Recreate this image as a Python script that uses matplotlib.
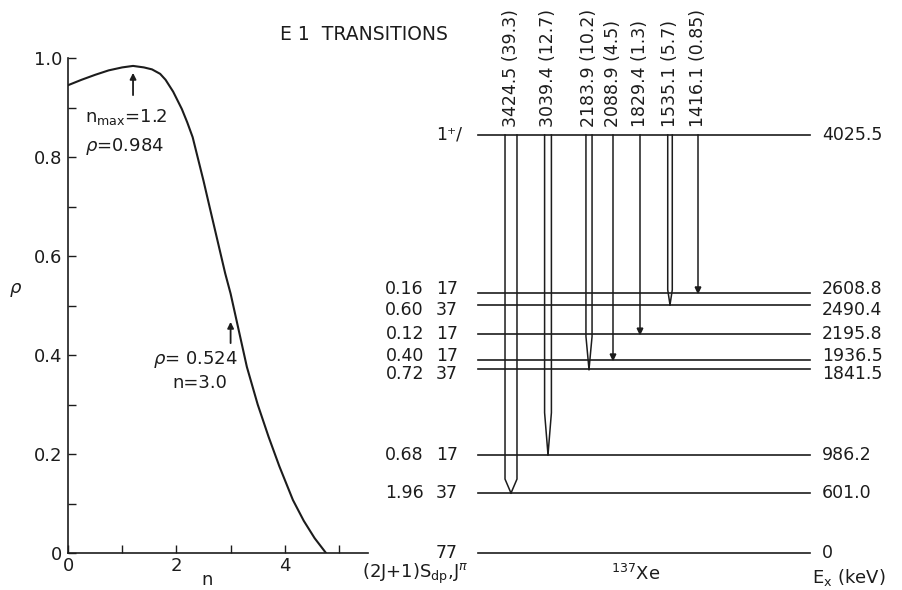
import numpy as np
import matplotlib
matplotlib.use("Agg")
import matplotlib.pyplot as plt
from matplotlib.patches import Polygon

# ---------------- left panel: rho as a function of n ----------------
n_vals = [0.0, 0.25, 0.5, 0.75, 1.0, 1.2, 1.4, 1.55, 1.7, 1.8, 1.94, 2.1,
          2.2, 2.3, 2.4, 2.5, 2.6, 2.75, 2.9, 3.0, 3.15, 3.3, 3.5, 3.7,
          3.9, 4.15, 4.35, 4.55, 4.76]
rho_vals = [0.945, 0.956, 0.966, 0.975, 0.981, 0.984, 0.981, 0.977, 0.968,
            0.956, 0.932, 0.897, 0.870, 0.840, 0.796, 0.752, 0.705, 0.635,
            0.565, 0.524, 0.450, 0.376, 0.300, 0.235, 0.175, 0.107, 0.065,
            0.030, 0.0]
n_max, rho_max = 1.2, 0.984
n_mark, rho_mark = 3.0, 0.524

y_ticks = [0.0, 0.2, 0.4, 0.6, 0.8, 1.0]
y_tick_labels = ["0", "0.2", "0.4", "0.6", "0.8", "1.0"]
x_ticks = [0, 2, 4]
x_tick_labels = ["0", "2", "4"]

# ---------------- right panel: 137Xe level scheme ----------------
level_energy = [4025.5, 2608.8, 2490.4, 2195.8, 1936.5, 1841.5, 986.2, 601.0, 0.0]
level_text = ["4025.5", "2608.8", "2490.4", "2195.8", "1936.5", "1841.5",
              "986.2", "601.0", "0"]
level_s = ["", "0.16", "0.60", "0.12", "0.40", "0.72", "0.68", "1.96", ""]
level_jpi = ["1⁺/", "17", "37", "17", "17", "37", "17", "37", "77"]

gamma_energy = [3424.5, 3039.4, 2183.9, 2088.9, 1829.4, 1535.1, 1416.1]
gamma_intensity = [39.3, 12.7, 10.2, 4.5, 1.3, 5.7, 0.85]

INK = "#1c1c1c"
W, H = 902, 590


def fx(px):
    return px / W


def fy(py):
    return 1 - py / H


fig = plt.figure(figsize=(W / 100, H / 100), dpi=100)
fig.patch.set_facecolor("white")

# ---- left axes ----
PX_PER_N = 54.2
ax = fig.add_axes([fx(68), fy(553), 300 / W, 495 / H])
ax.plot(n_vals, rho_vals, color=INK, lw=1.5, solid_capstyle="round",
        solid_joinstyle="round")
ax.set_xlim(0, 300 / PX_PER_N)
ax.set_ylim(0, 1.0)
for s in ("top", "right"):
    ax.spines[s].set_visible(False)
for s in ("left", "bottom"):
    ax.spines[s].set_linewidth(1.2)
    ax.spines[s].set_color(INK)
ax.set_yticks(y_ticks)
ax.set_yticklabels(y_tick_labels)
ax.set_yticks([0.1, 0.3, 0.5, 0.7, 0.9], minor=True)
ax.set_xticks(x_ticks)
ax.set_xticklabels(x_tick_labels)
ax.set_xticks([1, 3, 5], minor=True)
ax.tick_params(which="both", direction="in", length=5.5, width=1.0,
               color=INK, labelcolor=INK, labelsize=13)
ax.tick_params(axis="y", which="both", pad=4)
ax.tick_params(axis="x", which="both", pad=3)

ax.annotate("", xy=(n_max, 0.970), xytext=(n_max, 0.925),
            arrowprops=dict(arrowstyle="-|>", lw=1.3, color=INK,
                            mutation_scale=9, shrinkA=0, shrinkB=0))
ax.text(0.31, 0.881, r"n$_{\rm max}$=" + f"{n_max}", fontsize=13,
        color=INK, ha="left", va="center")
ax.text(0.31, 0.822, r"$\rho$=" + f"{rho_max}", fontsize=13,
        color=INK, ha="left", va="center")

ax.annotate("", xy=(n_mark, 0.467), xytext=(n_mark, 0.424),
            arrowprops=dict(arrowstyle="-|>", lw=1.3, color=INK,
                            mutation_scale=9, shrinkA=0, shrinkB=0))
ax.text(1.57, 0.39, r"$\rho$= " + f"{rho_mark}", fontsize=13,
        color=INK, ha="left", va="center")
ax.text(2.44, 0.343, f"n={n_mark}", fontsize=13, color=INK,
        ha="center", va="center")

fig.text(fx(16), fy(290), r"$\rho$", fontsize=13, color=INK,
         ha="center", va="center")
fig.text(fx(207), fy(580), "n", fontsize=13, color=INK,
         ha="center", va="center")

# ---- right axes: x in layout pixels, y in energy (keV) ----
E_TOP = level_energy[0]
E_BREAK = 3000.0
PX_PER_KEV = 0.09966
AX_H_PX = 418
f_top = AX_H_PX / PX_PER_KEV
K_UP = (f_top - E_BREAK) / (E_TOP - E_BREAK)


def fwd(e):
    e = np.asarray(e, dtype=float)
    return np.where(e <= E_BREAK, e, E_BREAK + (e - E_BREAK) * K_UP)


def inv(f):
    f = np.asarray(f, dtype=float)
    return np.where(f <= E_BREAK, f, E_BREAK + (f - E_BREAK) / K_UP)


KEV_PER_PX = 1 / PX_PER_KEV

axr = fig.add_axes([0, fy(553), 1, AX_H_PX / H])
axr.set_yscale("function", functions=(fwd, inv))
axr.set_xlim(0, W)
axr.set_ylim(0, E_TOP)
axr.axis("off")
axr.patch.set_alpha(0)

# labels of closely spaced levels are spread apart a little (pixels, + = down)
LABEL_NUDGE_PX = [0, -4, 5, 0, -4, 5, 0, 0, 0]
LEVEL_FS = 12.5
LEVEL_X0, LEVEL_X1 = 478, 810
for e, lab, s, j, nd in zip(level_energy, level_text, level_s, level_jpi,
                            LABEL_NUDGE_PX):
    axr.plot([LEVEL_X0, LEVEL_X1], [e, e], color=INK, lw=1.2, clip_on=False)
    off = (0, -nd * 0.72)
    axr.annotate(lab, xy=(822, e), xytext=off, textcoords="offset points",
                 fontsize=LEVEL_FS, color=INK, ha="left", va="center")
    if s:
        axr.annotate(s, xy=(424, e), xytext=off, textcoords="offset points",
                     fontsize=LEVEL_FS, color=INK, ha="right", va="center")
    axr.annotate(j, xy=(436, e), xytext=off, textcoords="offset points",
                 fontsize=LEVEL_FS, color=INK, ha="left", va="center")

# gamma transitions from the 4025.5 keV level
GAMMA_X = [511, 548, 589, 613, 640, 670, 698]
TAPER_PX = [14, 42, 33, 0, 0, 15, 0]
for x, eg, ig, tp in zip(GAMMA_X, gamma_energy, gamma_intensity, TAPER_PX):
    e_end = E_TOP - eg
    if ig >= 5:
        half = 1.91 * np.sqrt(ig) / 2
        e_taper = e_end + tp * KEV_PER_PX
        for side in (-1, 1):
            axr.plot([x + side * half, x + side * half, x],
                     [E_TOP, e_taper, e_end], color=INK, lw=1.1,
                     clip_on=False)
    else:
        head = 6 * KEV_PER_PX
        axr.plot([x, x], [E_TOP, e_end + head], color=INK, lw=1.1,
                 clip_on=False)
        axr.add_patch(Polygon([[x - 2.8, e_end + head], [x + 2.8, e_end + head],
                               [x, e_end]], closed=True, color=INK,
                              clip_on=False))
    axr.annotate(f"{eg} ({ig})", xy=(x, E_TOP), xytext=(0, 6),
                 textcoords="offset points", rotation=90, ha="center",
                 va="bottom", fontsize=12.5, color=INK)

fig.text(fx(280), fy(34), "E 1  TRANSITIONS", fontsize=13.5, color=INK,
         ha="left", va="center")
fig.text(fx(362), fy(574), r"(2J+1)S$_{\rm dp}$,J$^{\pi}$", fontsize=13,
         color=INK, ha="left", va="center")
fig.text(fx(636), fy(574), r"$^{137}$Xe", fontsize=13, color=INK,
         ha="center", va="center")
fig.text(fx(812), fy(577), r"E$_{\rm x}$ (keV)", fontsize=13, color=INK,
         ha="left", va="center")

fig.savefig("out.png", dpi=100, facecolor="white")
